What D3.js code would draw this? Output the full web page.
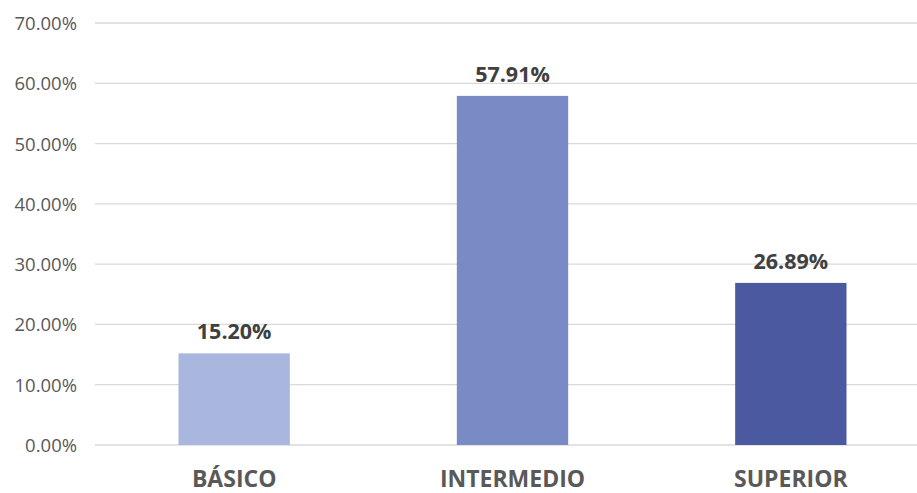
<!DOCTYPE html>
<html><head><meta charset="utf-8">
<script src="https://cdn.jsdelivr.net/npm/d3@7"></script>
<style>body{margin:0;background:#fff;}svg{display:block;}</style>
</head><body>
<svg id="chart" width="917" height="493"></svg>
<script>
const categories = ["BÁSICO", "INTERMEDIO", "SUPERIOR"];
const values = [15.20, 57.91, 26.89];
const colors = ["#A9B7DE", "#7A8AC4", "#4A59A0"];
const yTicks = [0, 10, 20, 30, 40, 50, 60, 70];

const svg = d3.select("#chart");
const x = d3.scaleBand().domain(categories).range([95, 930]).paddingInner(0.6).paddingOuter(0.3);
const y = d3.scaleLinear().domain([0, 70]).range([445, 23]);

svg.append("g").selectAll("line").data(yTicks).join("line")
  .attr("x1", 95).attr("x2", 917)
  .attr("y1", d => y(d)).attr("y2", d => y(d))
  .attr("stroke", "#d9d9d9").attr("stroke-width", 1.3);

const yAxis = d3.axisLeft(y).tickValues(yTicks).tickSize(0).tickPadding(0)
  .tickFormat(d => d.toFixed(2) + "%");
const ga = svg.append("g").attr("transform", "translate(77,0)").call(yAxis);
ga.select(".domain").remove();
ga.selectAll("text").attr("font-family", "'Open Sans', sans-serif").attr("font-size", 18.5)
  .attr("fill", "#595959").attr("dy", "0.35em");

svg.append("g").selectAll("rect").data(values).join("rect")
  .attr("x", (d, i) => x(categories[i])).attr("width", x.bandwidth())
  .attr("y", d => y(d)).attr("height", d => y(0) - y(d))
  .attr("fill", (d, i) => colors[i]);

svg.append("g").selectAll("text").data(values).join("text")
  .attr("x", (d, i) => x(categories[i]) + x.bandwidth() / 2)
  .attr("y", d => y(d) - 14)
  .attr("text-anchor", "middle")
  .attr("font-family", "'Open Sans', sans-serif").attr("font-weight", 700)
  .attr("font-size", 21.5).attr("fill", "#404040")
  .text(d => d.toFixed(2) + "%");

const xAxis = d3.axisBottom(x).tickSize(0).tickPadding(0);
const gx = svg.append("g").attr("transform", "translate(0,487)").call(xAxis);
gx.select(".domain").remove();
gx.selectAll("text").attr("dy", 0).attr("font-family", "'Open Sans', sans-serif")
  .attr("font-weight", 700).attr("font-size", 23).attr("fill", "#595959");
</script>
</body></html>
